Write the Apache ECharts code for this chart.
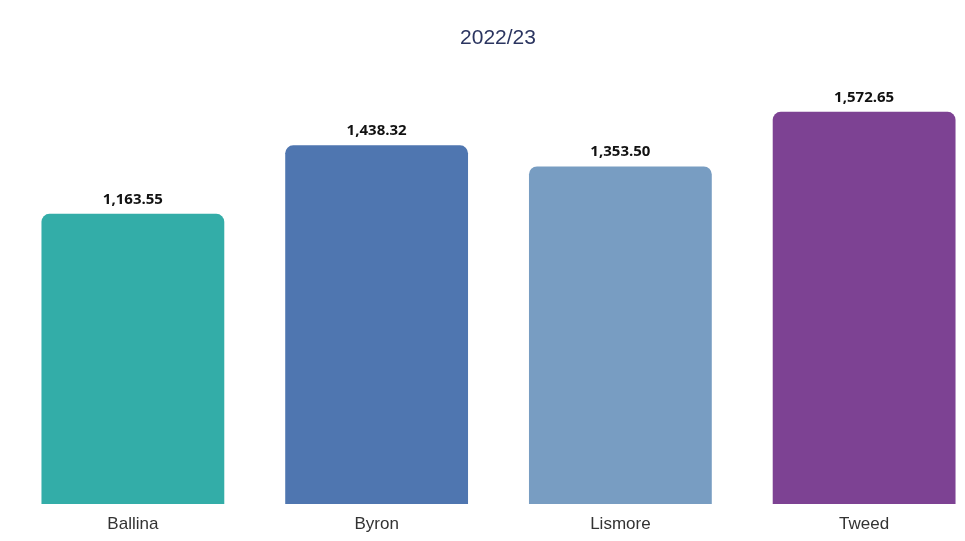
<!DOCTYPE html>
<html><head><meta charset="utf-8">
<script src="https://cdn.jsdelivr.net/npm/echarts@6/dist/echarts.min.js"></script>
<style>html,body{margin:0;padding:0;background:#fff;overflow:hidden}#c{width:996px;height:541px}</style>
</head><body><div id="c"></div>
<script>
const categories = ["Ballina", "Byron", "Lismore", "Tweed"];
const values = [1163.55, 1438.32, 1353.50, 1572.65];
const colors = ["#33ADA8", "#4F76B0", "#789DC2", "#7D4293"];
const titleText = "2022/23";

const chart = echarts.init(document.getElementById('c'));
chart.setOption({
  animation: false,
  title: {
    text: titleText, left: 'center', top: 23,
    textStyle: {fontFamily: 'Liberation Sans, Arial', fontSize: 21, fontWeight: 'normal', color: '#2B3560'}
  },
  grid: {left: 11, top: 105, right: 10, bottom: 37, containLabel: false},
  xAxis: {
    type: 'category', data: categories,
    axisLine: {show: false}, axisTick: {show: false},
    axisLabel: {margin: 12, fontSize: 17, color: '#333', fontFamily: 'Liberation Sans, Arial, sans-serif'}
  },
  yAxis: {type: 'value', min: 0, max: 1600, show: false, splitLine: {show: false}},
  series: [{
    type: 'bar', barCategoryGap: '25%',
    data: values.map((v, i) => ({value: v, itemStyle: {color: colors[i]}})),
    itemStyle: {borderRadius: [8, 8, 0, 0]},
    label: {
      show: true, position: 'top', distance: 7,
      fontFamily: 'Open Sans, sans-serif', fontWeight: 'bold', fontSize: 15, color: '#111',
      formatter: p => p.value.toLocaleString('en-US', {minimumFractionDigits: 2, maximumFractionDigits: 2})
    }
  }]
});
</script></body></html>
